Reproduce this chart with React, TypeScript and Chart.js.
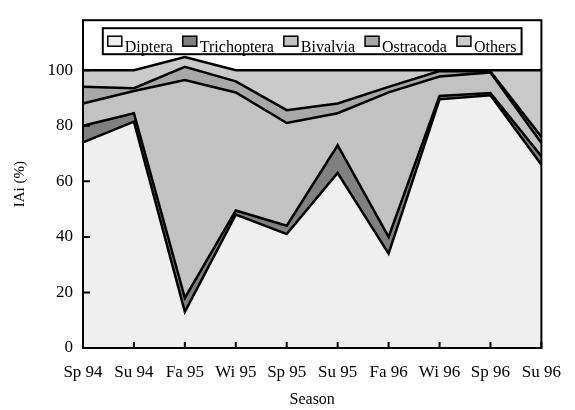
import React, { useEffect, useRef } from 'react';
import { Chart, registerables } from 'chart.js';

Chart.register(...registerables);

const seasons = ['Sp 94', 'Su 94', 'Fa 95', 'Wi 95', 'Sp 95', 'Su 95', 'Fa 96', 'Wi 96', 'Sp 96', 'Su 96'];
const diptera = [74, 81.5, 13, 48, 41, 63, 34, 89.5, 91, 66];
const trichoptera = [6, 3, 5, 1.5, 3, 10, 6, 1.2, 0.8, 3];
const bivalvia = [8, 8, 78.5, 42.5, 37, 11.5, 52, 7, 7.4, 4.8];
const ostracoda = [6, 1, 4.7, 4, 4.6, 3.5, 2, 2, 0.3, 2.2];
const others = [6, 6.5, 3.5, 4, 14.4, 12, 6, 0.3, 0.5, 24];
const seriesNames = ['Diptera', 'Trichoptera', 'Bivalvia', 'Ostracoda', 'Others'];
const seriesColors = ['#efefef', '#808080', '#c2c2c2', '#a8a8a8', '#cacaca'];

const FONT = '"Liberation Serif", "Times New Roman", serif';

const framePlugin = {
  id: 'frameAndLegend',
  afterDatasetsDraw(chart: any) {
    const { ctx, chartArea: a, scales } = chart;
    ctx.save();
    ctx.strokeStyle = '#000';
    ctx.lineWidth = 2;
    ctx.strokeRect(a.left, a.top, a.right - a.left, a.bottom - a.top);
    ctx.beginPath();
    scales.y.ticks.forEach((t: any) => {
      const y = scales.y.getPixelForValue(t.value);
      ctx.moveTo(a.left, y);
      ctx.lineTo(a.left + 7, y);
    });
    seasons.forEach((_, i) => {
      const x = scales.x.getPixelForValue(i);
      ctx.moveTo(x, a.bottom);
      ctx.lineTo(x, a.bottom - 6);
    });
    ctx.stroke();

    // legend
    ctx.font = `16px ${FONT}`;
    const ds = chart.data.datasets;
    const sw = 14, sh = 10, gapText = 3, gapItem = 10, padX = 5;
    let total = 0;
    ds.forEach((d: any, i: number) => {
      total += sw + gapText + ctx.measureText(d.label).width + (i < ds.length - 1 ? gapItem : 0);
    });
    const boxW = total + padX * 2;
    const cx = (a.left + a.right) / 2;
    const boxX = cx - boxW / 2;
    const boxY = a.top + 8;
    const boxH = 26;
    ctx.fillStyle = '#fff';
    ctx.fillRect(boxX, boxY, boxW, boxH);
    ctx.lineWidth = 2;
    ctx.strokeRect(boxX, boxY, boxW, boxH);
    let x = boxX + padX;
    ds.forEach((d: any) => {
      ctx.fillStyle = d.backgroundColor;
      ctx.fillRect(x, boxY + 8, sw, sh);
      ctx.lineWidth = 1.5;
      ctx.strokeRect(x, boxY + 8, sw, sh);
      x += sw + gapText;
      ctx.fillStyle = '#000';
      ctx.textBaseline = 'alphabetic';
      ctx.textAlign = 'left';
      ctx.fillText(d.label, x, boxY + 23.5);
      x += ctx.measureText(d.label).width + gapItem;
    });
    ctx.restore();
  },
};

export default function App() {
  const ref = useRef<HTMLCanvasElement | null>(null);
  useEffect(() => {
    document.body.style.margin = '0';
    const values = [diptera, trichoptera, bivalvia, ostracoda, others];
    const chart = new Chart(ref.current as HTMLCanvasElement, {
      type: 'line',
      data: {
        labels: seasons,
        datasets: values.map((v, i) => ({
          label: seriesNames[i],
          data: v,
          backgroundColor: seriesColors[i],
          borderColor: '#000',
          borderWidth: 2.5,
          pointRadius: 0,
          tension: 0,
          fill: i === 0 ? 'origin' : '-1',
        })),
      },
      options: {
        responsive: false,
        animation: false,
        layout: { padding: { left: 0, top: 9, right: 32, bottom: 0 } },
        plugins: { legend: { display: false }, tooltip: { enabled: false } },
        scales: {
          x: {
            type: 'category',
            offset: false,
            grid: { display: false, drawTicks: false },
            border: { display: false },
            ticks: { font: { family: FONT, size: 17 }, color: '#000', padding: 14, maxRotation: 0, autoSkip: false },
            title: { display: true, text: 'Season', color: '#000', font: { family: FONT, size: 16 }, padding: { top: 0, bottom: 1 } },
            afterFit: (s: any) => { s.height = 62; },
          },
          y: {
            stacked: true,
            min: 0,
            max: 118,
            grid: { display: false, drawTicks: false },
            border: { display: false },
            ticks: { stepSize: 20, font: { family: FONT, size: 17 }, color: '#000', padding: 10 },
            afterBuildTicks: (s: any) => { s.ticks = s.ticks.filter((t: any) => t.value <= 100); },
            title: { display: true, text: 'IAi (%)', color: '#000', font: { family: FONT, size: 15 }, padding: { top: 11, bottom: 0 } },
            afterFit: (s: any) => { s.width = 83; },
          },
        },
      },
      plugins: [framePlugin],
    } as any);
    return () => chart.destroy();
  }, []);
  return <canvas ref={ref} width={575} height={410} style={{ display: 'block' }} />;
}
